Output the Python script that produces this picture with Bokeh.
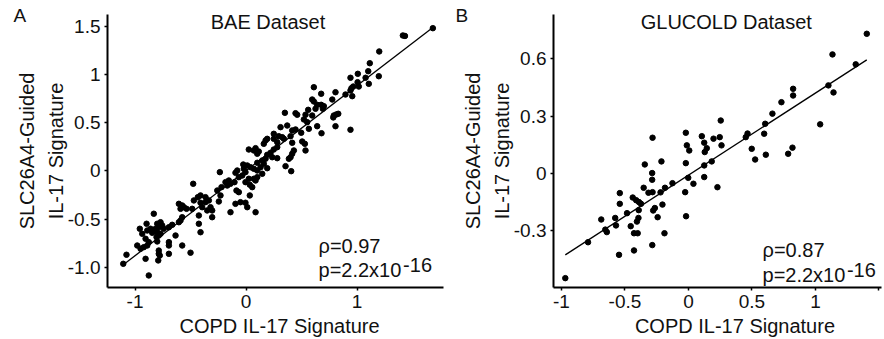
from bokeh.plotting import figure
from bokeh.layouts import row
from bokeh.models import Label, Range1d, FixedTicker
from bokeh.embed import file_html
from bokeh.resources import INLINE

# ---------------- data ----------------
bae_x = [1.683, 1.413, 1.432, 1.200, 1.115, 1.101, 1.196, 1.007, 0.941, 1.077, 1.005, 0.966, 0.950, 0.941,
         1.016, 1.106, 0.611, 0.677, 0.806, 0.896, 0.957, 0.596, 0.611, 0.677, 0.701, 0.692, 0.641, 0.777,
         0.560, 0.626, 0.350, 0.446, 0.461, 0.536, 0.596, 0.791, 0.813, 0.831, 0.786, 0.521, 0.551, 0.641,
         0.806, 0.311, 0.371, 0.416, 0.446, 0.566, 0.941, 0.497, 0.680, 0.250, 0.295, 0.326, 0.401, 0.250,
         0.506, 0.530, 0.281, 0.416, 0.160, 0.176, 0.191, 0.341, 0.281, 0.250, 0.221, 0.191, 0.176, 0.146,
         0.070, 0.101, 0.115, 0.086, 0.025, 0.236, 0.281, 0.160, 0.131, 0.101, 0.070, 0.041, 0.011, 0.191,
         0.146, 0.101, 0.070, 0.086, -0.020, -0.005, -0.034, -0.079, -0.095, -0.065, 0.025, -0.005, 0.056,
         0.034, -0.236, -0.185, -0.155, -0.140, -0.169, -0.104, -0.086, -0.065, -0.221, -0.259, -0.230,
         -0.245, -0.476, -0.410, -0.365, -0.335, -0.470, -0.434, -0.410, -0.365, -0.395, -0.350, -0.320,
         -0.305, -0.305, -0.140, -0.095, -0.050, -0.005, 0.011, 0.034, 0.086, -0.605, -0.575, -0.560,
         -0.590, -0.536, -0.485, -0.425, -0.425, -0.410, -0.635, -0.605, -0.575, -0.590, -0.695, -0.665,
         -0.741, -0.831, -0.770, -0.755, -0.800, -0.786, -0.815, -0.831, -0.800, -0.770, -0.786, -0.806,
         -0.860, -0.845, -0.896, -0.890, -0.935, -0.957, -0.890, -0.921, -0.950, -0.980, -0.905, -0.876,
         -0.800, -0.786, -0.786, -0.777, -0.695, -0.695, -0.695, -0.575, -0.500, -0.905, -0.791, -1.077,
         -1.106, -0.876, 0.431, 0.416, 0.401, 0.386, 0.536, 0.356, 0.407, 0.101, -0.025]
bae_y = [1.482, 1.406, 1.401, 1.240, 1.118, 1.035, 0.983, 1.008, 0.967, 0.967, 0.921, 0.876, 0.859, 0.835,
         0.876, 0.904, 0.869, 0.801, 0.817, 0.793, 0.776, 0.741, 0.721, 0.686, 0.672, 0.645, 0.686, 0.741,
         0.634, 0.645, 0.603, 0.599, 0.583, 0.583, 0.575, 0.575, 0.586, 0.593, 0.555, 0.534, 0.506, 0.464,
         0.464, 0.454, 0.471, 0.420, 0.430, 0.437, 0.427, 0.396, 0.391, 0.385, 0.360, 0.350, 0.360, 0.333,
         0.305, 0.281, 0.298, 0.292, 0.281, 0.316, 0.333, 0.333, 0.246, 0.222, 0.188, 0.167, 0.126, 0.108,
         0.212, 0.178, 0.201, 0.236, 0.222, 0.142, 0.132, 0.074, 0.038, 0.004, 0.022, 0.038, 0.056, 0.028,
         -0.030, -0.065, -0.082, -0.100, 0.022, -0.013, -0.048, 0.004, -0.020, -0.065, -0.082, -0.117, -0.169,
         -0.144, -0.013, -0.117, -0.100, -0.134, -0.152, -0.117, -0.204, -0.221, -0.169, -0.204, -0.255,
         -0.318, -0.134, -0.255, -0.273, -0.307, -0.307, -0.273, -0.331, -0.325, -0.377, -0.411, -0.377,
         -0.411, -0.481, -0.429, -0.342, -0.325, -0.331, -0.377, -0.255, -0.429, -0.342, -0.359, -0.377,
         -0.394, -0.394, -0.394, -0.463, -0.549, -0.637, -0.671, -0.533, -0.481, -0.515, -0.585, -0.560,
         -0.601, -0.445, -0.533, -0.567, -0.549, -0.585, -0.601, -0.619, -0.637, -0.653, -0.671, -0.688,
         -0.601, -0.643, -0.549, -0.619, -0.653, -0.601, -0.775, -0.792, -0.809, -0.775, -0.705, -0.740,
         -0.733, -0.827, -0.861, -0.879, -0.740, -0.775, -0.861, -0.775, -0.850, -0.913, -0.930, -0.871,
         -0.965, -1.086, 0.212, 0.178, 0.142, 0.126, 0.212, 0.049, -0.003, 0.084, 0.066]

glu_x = [1.404, 1.134, 1.317, 1.102, 1.142, 0.824, 0.824, 0.732, 0.661, 0.604, 1.037, 0.254, 0.451, 0.465,
         0.596, 0.498, 0.525, 0.609, 0.819, 0.785, -0.283, -0.021, -0.013, 0.006, 0.105, 0.124, 0.144, 0.128,
         0.197, 0.246, 0.260, -0.344, -0.213, -0.021, 0.124, 0.183, -0.286, -0.286, -0.002, 0.124, 0.039,
         0.228, -0.126, -0.185, -0.353, -0.220, -0.283, -0.315, -0.026, -0.541, -0.541, -0.439, -0.412,
         -0.390, -0.374, -0.205, -0.265, -0.278, -0.392, -0.484, -0.019, -0.243, -0.577, -0.687, -0.394,
         -0.406, -0.455, -0.571, -0.655, -0.643, -0.429, -0.400, -0.189, -0.791, -0.285, -0.429, -0.547,
         -0.970]
glu_y = [0.731, 0.623, 0.571, 0.461, 0.424, 0.443, 0.408, 0.373, 0.313, 0.260, 0.257, 0.277, 0.190, 0.209,
         0.208, 0.129, 0.073, 0.098, 0.135, 0.103, 0.187, 0.213, 0.147, 0.120, 0.195, 0.161, 0.132, 0.112,
         0.182, 0.190, 0.147, 0.047, 0.063, 0.054, 0.042, 0.063, 0.002, -0.033, -0.023, -0.019, -0.054,
         -0.072, -0.051, -0.075, -0.075, -0.099, -0.098, -0.101, -0.098, -0.103, -0.159, -0.126, -0.140,
         -0.150, -0.159, -0.163, -0.181, -0.194, -0.192, -0.208, -0.224, -0.229, -0.233, -0.241, -0.233,
         -0.252, -0.276, -0.272, -0.294, -0.307, -0.313, -0.313, -0.313, -0.360, -0.375, -0.403, -0.426,
         -0.548]

# fitted lines: slope, intercept
bae_fit = [0.883, 0.002]
glu_fit = [0.430, -0.009]

bae_xticks = [-1, 0, 1]
bae_xlabels = ["-1", "0", "1"]
bae_yticks = [-1, -0.5, 0, 0.5, 1, 1.5]
bae_ylabels = ["-1.0", "-0.5", "0", "0.5", "1", "1.5"]
glu_xticks = [-1, -0.5, 0, 0.5, 1, 1.5]
glu_xlabels = ["-1", "-0.5", "0", "0.5", "1", ""]
glu_yticks = [-0.3, 0, 0.3, 0.6]
glu_ylabels = ["-0.3", "0", "0.3", "0.6"]

FONT = "Liberation Sans"
TXT = "#111111"


def style(p, xt, xl, yt, yl):
    p.outline_line_color = None
    p.grid.visible = False
    for ax in p.axis:
        ax.axis_line_width = 2
        ax.axis_line_color = "black"
        ax.major_tick_out = 3
        ax.major_tick_in = 0
        ax.major_tick_line_width = 1.5
        ax.minor_tick_out = 0
        ax.minor_tick_in = 0
        ax.major_label_text_font = FONT
        ax.major_label_text_font_size = "19px"
        ax.major_label_text_color = TXT
        ax.axis_label_text_font = FONT
        ax.axis_label_text_font_size = "20px"
        ax.axis_label_text_font_style = "normal"
        ax.axis_label_text_color = TXT
    p.xaxis.ticker = FixedTicker(ticks=xt)
    p.xaxis.major_label_overrides = dict(zip(xt, xl))
    p.yaxis.ticker = FixedTicker(ticks=yt)
    p.yaxis.major_label_overrides = dict(zip(yt, yl))
    p.xaxis.major_label_standoff = 4
    p.yaxis.major_label_standoff = 4
    p.yaxis.axis_label = "SLC26A4-Guided\nIL-17 Signature"
    p.yaxis.axis_label_text_line_height = 1.3
    p.yaxis.axis_label_standoff = -2


def lab(p, x, y, text, size="20px", align="left", place=None):
    # y is the vertical centre of the text
    l = Label(x=x, y=y, text=text, text_font=FONT, text_font_size=size,
              text_color=TXT, text_align=align, text_baseline="alphabetic")
    if place is None:
        p.add_layout(l)
    else:
        p.add_layout(l, place)


# ---------------- panel A ----------------
pA = figure(width=446, height=339, output_backend="svg", toolbar_location=None,
            x_range=Range1d(-1.248, 1.779), y_range=Range1d(-1.211, 1.624),
            min_border_left=107, min_border_right=3, min_border_top=14, min_border_bottom=52)
style(pA, bae_xticks, bae_xlabels, bae_yticks, bae_ylabels)
pA.scatter(bae_x, bae_y, size=5.5, color="black")
ax0, ax1 = min(bae_x), max(bae_x)
pA.line([ax0, ax1], [bae_fit[0] * ax0 + bae_fit[1], bae_fit[0] * ax1 + bae_fit[1]],
        line_width=1.3, color="black")
lab(pA, -2.095, 1.614, "A", size="19px", place="left")
lab(pA, 0.302, -1.611, "COPD IL-17 Signature", align="center", place="below")
lab(pA, 0.198, 1.546, "BAE Dataset", align="center")
lab(pA, 0.653, -0.780, "ρ=0.97")
lab(pA, 0.653, -1.029, "p=2.2x10")
lab(pA, 1.415, -0.982, "-16")

# ---------------- panel B ----------------
pB = figure(width=438, height=339, output_backend="svg", toolbar_location=None,
            x_range=Range1d(-1.063, 1.520), y_range=Range1d(-0.597, 0.832),
            min_border_left=107, min_border_right=3, min_border_top=14, min_border_bottom=52)
style(pB, glu_xticks, glu_xlabels, glu_yticks, glu_ylabels)
pB.scatter(glu_x, glu_y, size=5.5, color="black")
bx0, bx1 = min(glu_x), max(glu_x)
pB.line([bx0, bx1], [glu_fit[0] * bx0 + glu_fit[1], glu_fit[0] * bx1 + glu_fit[1]],
        line_width=1.3, color="black")
lab(pB, -1.835, 0.827, "B", size="19px", place="left")
lab(pB, 0.366, -0.798, "COPD IL-17 Signature", align="center", place="below")
lab(pB, 0.298, 0.793, "GLUCOLD Dataset", align="center")
lab(pB, 0.583, -0.401, "ρ=0.87")
lab(pB, 0.583, -0.529, "p=2.2x10")
lab(pB, 1.248, -0.505, "-16")

layout = row(pA, pB)
open("out.html", "w").write(file_html(layout, INLINE))
